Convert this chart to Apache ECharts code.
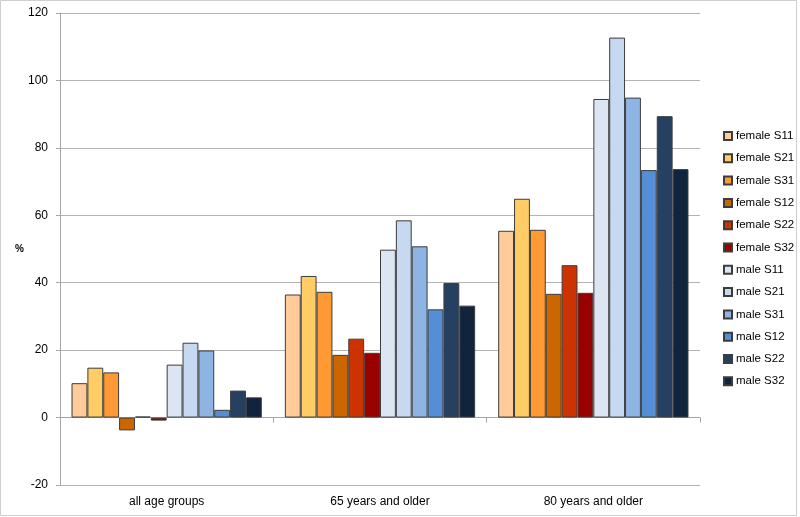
<!DOCTYPE html>
<html>
<head>
<meta charset="utf-8">
<script src="https://cdn.jsdelivr.net/npm/echarts@6/dist/echarts.min.js"></script>
<style>html,body{margin:0;padding:0;background:#fff}#c{width:800px;height:517px}</style>
</head>
<body>
<div id="c"></div>
<script>
const categories = ['all age groups', '65 years and older', '80 years and older'];
const seriesNames = ['female S11','female S21','female S31','female S12','female S22','female S32',
                     'male S11','male S21','male S31','male S12','male S22','male S32'];
const femaleS11 = [10.2, 36.5, 55.4];
const femaleS21 = [14.8, 42.0, 64.9];
const femaleS31 = [13.4, 37.3, 55.7];
const femaleS12 = [-3.8, 18.6, 36.7];
const femaleS22 = [0.3, 23.4, 45.2];
const femaleS32 = [-0.9, 19.2, 37.0];
const maleS11 = [15.7, 49.8, 94.5];
const maleS21 = [22.2, 58.5, 112.7];
const maleS31 = [19.9, 50.8, 94.9];
const maleS12 = [2.3, 32.1, 73.4];
const maleS22 = [8.0, 39.9, 89.4];
const maleS32 = [6.0, 33.2, 73.7];
const yTicks = [-20, 0, 20, 40, 60, 80, 100, 120];

const values = [femaleS11, femaleS21, femaleS31, femaleS12, femaleS22, femaleS32,
                maleS11, maleS21, maleS31, maleS12, maleS22, maleS32];
const colors = ['#FFCC99','#FFCC66','#FF9933','#CC6600','#CC3300','#990000',
                '#DCE6F2','#C6D9F1','#8EB4E3','#558ED5','#254061','#10243E'];

const font = 'Liberation Sans, Arial, sans-serif';
const chart = echarts.init(document.getElementById('c'), null, {renderer: 'canvas'});
chart.setOption({
  animation: false,
  backgroundColor: '#fff',
  grid: {left: 60, right: 100, top: 13, bottom: 32, containLabel: false},
  legend: {
    orient: 'vertical', left: 718, top: 125,
    itemWidth: 8, itemHeight: 8, itemGap: 10.3,
    icon: 'rect',
    textStyle: {fontFamily: font, fontSize: 11.5, color: '#000', padding: [0,0,0,-1]},
    data: seriesNames
  },
  graphic: [
    {type: 'rect', shape: {x: 0.5, y: 0.5, width: 796, height: 515}, style: {fill: 'none', stroke: '#cfcfcf', lineWidth: 1}, silent: true},
    {type: 'text', left: 15, top: 244, style: {text: '%', font: 'bold 10px ' + font, fill: '#000'}}
  ],
  xAxis: [
    {type: 'category', data: categories, position: 'bottom',
     axisLine: {show: false, onZero: false}, axisTick: {show: false},
     axisLabel: {fontFamily: font, fontSize: 12, color: '#000', margin: 11}},
    {type: 'category', data: categories, position: 'top',
     axisLine: {show: true, onZero: true, lineStyle: {color: '#a6a6a6', width: 1}},
     axisTick: {show: true, inside: true, length: 5, lineStyle: {color: '#a6a6a6'}},
     axisLabel: {show: false}}
  ],
  yAxis: {
    type: 'value', min: -20, max: 120, interval: 20,
    axisLine: {show: true, lineStyle: {color: '#a6a6a6'}},
    axisTick: {show: true, length: 4, lineStyle: {color: '#a6a6a6'}},
    axisLabel: {fontFamily: font, fontSize: 12, color: '#000', margin: 12,
      formatter: v => yTicks.includes(v) ? String(v) : ''},
    splitLine: {show: true, lineStyle: {color: '#b3b3b3', width: 1}}
  },
  series: seriesNames.map((n, i) => ({
    name: n, type: 'bar', xAxisIndex: 0, data: values[i],
    barGap: '0%', barCategoryGap: '10.8%',
    itemStyle: {color: colors[i], borderColor: '#3c3c3c', borderWidth: 1}
  }))
});
</script>
</body>
</html>
